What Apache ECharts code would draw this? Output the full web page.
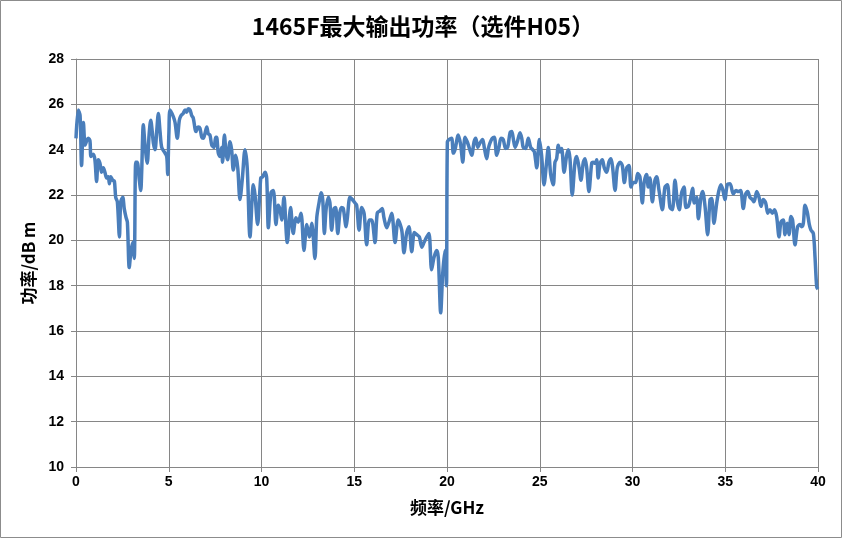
<!DOCTYPE html>
<html>
<head>
<meta charset="utf-8">
<script src="https://cdn.jsdelivr.net/npm/echarts@6/dist/echarts.min.js"></script>
<style>
html,body{margin:0;padding:0;background:#fff;}
#chart{width:846px;height:540px;}
</style>
</head>
<body>
<div id="chart"></div>
<script>
const titleText = '1465F最大输出功率（选件H05）';
const xName = '频率/GHz';
const yName = '功率/dB m';
const xTicks = [0, 5, 10, 15, 20, 25, 30, 35, 40];
const yTicks = [10, 12, 14, 16, 18, 20, 22, 24, 26, 28];

const freq = [
0,0.12,0.22,0.3,0.4,0.49,0.58,0.66,0.75,0.81,0.93,1.02,1.11,1.2,1.29,1.38,1.47,1.56,1.65,1.74,1.8,1.87,1.98,2.07,2.14,2.23,2.34,2.41,2.52,2.6,2.7,2.77,2.87,2.96,3.05,3.14,3.22,3.3,3.4,3.49,3.54,3.63,3.72,3.84,3.94,4.03,4.11,4.17,4.26,4.35,4.44,4.53,4.62,4.76,4.89,4.94,5.01,5.07,5.25,5.34,5.46,5.57,5.66,5.78,5.88,5.97,6.05,6.15,6.24,6.32,6.47,6.59,6.68,6.78,6.86,6.95,7.05,7.13,7.22,7.32,7.44,7.53,7.58,7.67,7.76,7.85,7.9,8.0,8.09,8.17,8.3,8.39,8.48,8.61,8.72,8.84,8.97,9.11,9.23,9.38,9.56,9.65,9.79,9.96,10.06,10.19,10.28,10.37,10.51,10.64,10.78,10.9,11.0,11.09,11.21,11.39,11.57,11.71,11.86,11.98,12.13,12.29,12.44,12.58,12.71,12.88,12.98,13.1,13.21,13.3,13.39,13.48,13.6,13.69,13.78,13.91,14.0,14.11,14.23,14.32,14.41,14.56,14.63,14.77,14.9,15.04,15.13,15.26,15.4,15.53,15.67,15.81,15.94,16.12,16.24,16.39,16.51,16.6,16.75,16.87,17.02,17.2,17.37,17.56,17.68,17.83,17.95,18.1,18.24,18.37,18.51,18.64,18.76,18.91,19.03,19.17,19.3,19.44,19.53,19.66,19.77,19.89,19.97,
20.02,20.12,20.25,20.34,20.43,20.61,20.74,20.85,20.97,21.09,21.19,21.33,21.46,21.55,21.66,21.78,21.92,22.01,22.14,22.23,22.32,22.44,22.55,22.68,22.8,22.91,23.03,23.16,23.27,23.4,23.49,23.57,23.67,23.79,23.94,24.03,24.11,24.24,24.38,24.51,24.62,24.71,24.84,24.98,25.1,25.23,25.37,25.46,25.59,25.73,25.82,25.91,26.0,26.09,26.18,26.31,26.45,26.54,26.63,26.75,26.9,26.99,27.12,27.22,27.35,27.44,27.53,27.65,27.8,27.88,27.98,28.07,28.15,28.25,28.37,28.48,28.61,28.73,28.84,28.93,29.06,29.18,29.33,29.45,29.56,29.69,29.81,29.92,30.04,30.17,30.28,30.4,30.53,30.63,30.76,30.85,30.94,31.07,31.21,31.3,31.43,31.61,31.75,31.88,32.02,32.15,32.29,32.42,32.52,32.65,32.78,32.88,33.01,33.14,33.24,33.33,33.46,33.55,33.69,33.78,33.91,34.05,34.18,34.27,34.39,34.54,34.66,34.77,34.89,34.98,35.11,35.26,35.43,35.58,35.7,35.83,35.97,36.1,36.21,36.33,36.46,36.55,36.7,36.82,36.93,37.05,37.18,37.29,37.41,37.54,37.65,37.77,37.9,38.0,38.13,38.22,38.34,38.44,38.54,38.63,38.76,38.9,39.03,39.12,39.21,39.3,39.42,39.53,39.62,39.75,39.84,39.93,40.0
];
const power = [
24.5,25.75,25.5,23.3,25.2,24.2,24.4,24.5,24.4,23.7,23.8,23.55,22.6,23.55,23.4,23.0,23.2,23.0,22.75,22.8,22.5,22.8,22.65,22.6,21.9,21.7,20.15,21.7,21.9,21.4,21.0,20.8,18.8,19.5,19.9,19.2,23.45,23.45,22.75,22.2,23.0,25.1,24.2,23.4,24.65,25.3,24.8,24.3,24.0,24.8,25.6,24.8,24.1,23.9,23.7,22.9,24.8,25.75,25.45,25.2,24.5,25.3,25.5,25.6,25.75,25.65,25.8,25.75,25.5,25.4,24.8,25.0,24.95,24.55,24.5,24.7,25.0,24.7,24.65,24.2,24.1,24.55,24.55,23.85,23.7,24.1,23.45,24.65,23.85,23.55,24.35,24.0,23.1,23.75,23.2,21.8,22.75,24.0,23.2,20.15,22.45,22.0,20.7,22.75,22.8,23.0,22.75,20.55,22.1,22.2,20.7,21.55,21.35,20.9,21.9,19.9,21.45,20.3,21.0,20.8,21.2,19.55,20.7,20.15,20.75,19.2,21.0,21.65,22.1,21.8,20.3,21.35,21.9,21.65,20.45,21.4,21.45,20.3,21.25,21.45,21.4,20.6,21.0,21.9,21.8,21.65,21.55,20.45,21.45,21.2,19.8,20.9,20.9,19.9,21.2,21.3,21.4,21.0,20.55,20.8,21.2,19.9,20.9,20.45,19.45,20.35,20.6,19.5,20.35,20.25,20.15,19.7,19.9,20.15,20.3,18.7,19.25,19.55,19.25,16.8,18.55,19.55,18.0,
24.35,24.45,24.5,23.85,24.0,24.65,24.2,23.45,24.55,24.35,24.1,23.75,24.35,24.5,24.1,24.3,24.45,24.1,23.6,24.05,24.3,24.5,24.55,23.75,24.1,24.5,24.45,24.05,24.1,24.75,24.8,24.5,24.1,24.35,24.75,24.5,24.1,24.05,24.5,24.1,24.0,23.9,23.2,24.45,23.75,22.45,23.45,24.1,22.9,22.45,23.45,23.6,24.2,23.9,24.05,23.0,23.75,24.0,23.6,22.0,23.45,23.7,23.2,22.65,23.45,23.6,23.2,22.15,23.4,23.45,23.4,23.55,22.75,23.4,23.55,23.2,23.0,23.45,23.6,23.2,22.2,23.2,23.45,23.3,22.55,23.2,23.3,22.35,22.55,22.55,22.95,22.8,21.65,22.55,22.9,22.35,22.75,21.7,22.65,22.8,22.2,21.35,22.35,22.45,21.45,21.35,22.65,21.7,21.35,22.1,22.35,21.45,21.5,21.9,22.3,21.65,21.9,20.95,21.9,22.15,21.5,20.25,21.8,21.85,20.75,21.65,22.2,22.45,22.15,21.8,22.45,22.5,22.05,22.2,22.15,22.2,21.4,22.05,22.15,21.9,21.8,21.7,22.15,21.9,21.5,21.8,21.65,21.2,21.35,21.2,21.35,21.05,20.15,20.8,20.9,20.25,20.75,20.25,21.05,20.9,19.8,20.6,20.7,20.6,20.75,21.55,21.25,20.7,20.45,20.3,19.25,17.95,17.85
];

const data = freq.map((f, i) => [f, power[i]]);

const chart = echarts.init(document.getElementById('chart'), null, {renderer: 'canvas'});
const labelFont = {fontFamily: 'Liberation Sans, Arial, sans-serif', fontWeight: 'bold', fontSize: 14, color: '#000'};
const nameFont = {fontFamily: 'Noto Sans CJK SC, sans-serif', fontWeight: 'bold', fontSize: 17, color: '#000'};
chart.setOption({
  animation: false,
  backgroundColor: '#fff',
  title: {
    text: titleText, left: 'center', top: 10,
    textStyle: {fontFamily: 'Noto Sans CJK SC, sans-serif', fontWeight: 'bold', fontSize: 23, color: '#000'}
  },
  graphic: [{
    type: 'rect', shape: {x: 0.5, y: 0.5, width: 841, height: 537},
    style: {fill: 'none', stroke: '#8c8c8c', lineWidth: 1}, silent: true
  }],
  grid: {left: 76, right: 28, top: 59, bottom: 73},
  xAxis: {
    type: 'value', min: 0, max: 40, interval: 5,
    name: xName, nameLocation: 'middle', nameGap: 32,
    nameTextStyle: nameFont,
    axisLine: {show: true, lineStyle: {color: '#868686', width: 1}},
    axisTick: {show: true, length: 5, inside: false, lineStyle: {color: '#868686'}},
    axisLabel: Object.assign({margin: 8, formatter: v => xTicks.includes(v) ? String(v) : ''}, labelFont),
    splitLine: {show: true, lineStyle: {color: '#868686', width: 1}}
  },
  yAxis: {
    type: 'value', min: 10, max: 28, interval: 2,
    name: yName, nameLocation: 'middle', nameGap: 34,
    nameTextStyle: nameFont,
    axisLine: {show: true, lineStyle: {color: '#868686', width: 1}},
    axisTick: {show: true, length: 5, inside: false, lineStyle: {color: '#868686'}},
    axisLabel: Object.assign({margin: 12, formatter: v => yTicks.includes(v) ? String(v) : ''}, labelFont),
    splitLine: {show: true, lineStyle: {color: '#868686', width: 1}}
  },
  series: [{
    type: 'line', data: data, showSymbol: false, smooth: 0.3,
    lineStyle: {color: '#4a7ebb', width: 3.5},
    clip: true
  }]
});
</script>
</body>
</html>
